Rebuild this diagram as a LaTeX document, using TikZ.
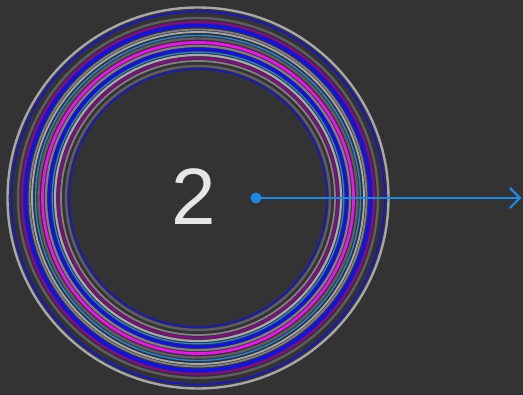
\documentclass[tikz,border=0pt]{standalone}
\usepackage{fontspec}
\setmainfont{Liberation Sans}
\usetikzlibrary{arrows.meta}
\definecolor{bg}{HTML}{333333}
\definecolor{lgray}{HTML}{A8A8A8}
\definecolor{mgray}{HTML}{808080}
\definecolor{dgray}{HTML}{5E5E5E}
\definecolor{rblue}{HTML}{1010F0}
\definecolor{rpurple}{HTML}{990099}
\definecolor{rmag}{HTML}{F010F0}
\definecolor{dblue}{HTML}{1E88E5}
\definecolor{numcol}{HTML}{E6E6E6}
\tikzset{
  ring/.style={draw=#1, fill=none},
  link/.style={draw=dblue, line width=2.2pt},
}
\begin{document}
\begin{tikzpicture}[x=1pt,y=-1pt]
\fill[bg] (0,0) rectangle (523,395);
\useasboundingbox (0,0) rectangle (523,395);
\coordinate (c) at (198,198);
\draw[ring=lgray, line width=2.4pt] (c) circle[radius=190.5];
\draw[ring=rblue, line width=1.4pt] (c) circle[radius=186.5];
\draw[ring=dgray, line width=2.4pt] (c) circle[radius=180];
\draw[ring=rpurple, line width=1.8pt] (c) circle[radius=176];
\draw[ring=rblue, line width=3.4pt] (c) circle[radius=172.5];
\draw[ring=mgray, line width=1.8pt] (c) circle[radius=168.5];
\draw[ring=lgray, line width=1.8pt] (c) circle[radius=166];
\draw[ring=dblue, line width=1.4pt] (c) circle[radius=162.5];
\draw[ring=dgray, line width=2.4pt] (c) circle[radius=159.5];
\draw[ring=rmag, line width=2.8pt] (c) circle[radius=155.5];
\draw[ring=mgray, line width=2.2pt] (c) circle[radius=152];
\draw[ring=rblue, line width=2.8pt] (c) circle[radius=148.8];
\draw[ring=dblue, line width=1.2pt] (c) circle[radius=145.8];
\draw[ring=lgray, line width=2.2pt] (c) circle[radius=143];
\draw[ring=rpurple, line width=1.8pt] (c) circle[radius=139.8];
\draw[ring=mgray, line width=1.8pt] (c) circle[radius=137];
\draw[ring=dgray, line width=2.4pt] (c) circle[radius=132];
\draw[ring=rblue, line width=1.2pt] (c) circle[radius=129];
\node[text=numcol, font=\fontsize{80}{80}\selectfont, inner sep=0pt] (num) at (194,196.5) {2};
\node[circle, fill=dblue, inner sep=0pt, minimum size=11pt] (dot) at (256,198) {};
\coordinate (end) at (521.5,198);
\draw[link, -{Straight Barb[length=10pt, width=20pt, line width=2.2pt]}] (dot.center) -- (end);
\end{tikzpicture}
\end{document}
